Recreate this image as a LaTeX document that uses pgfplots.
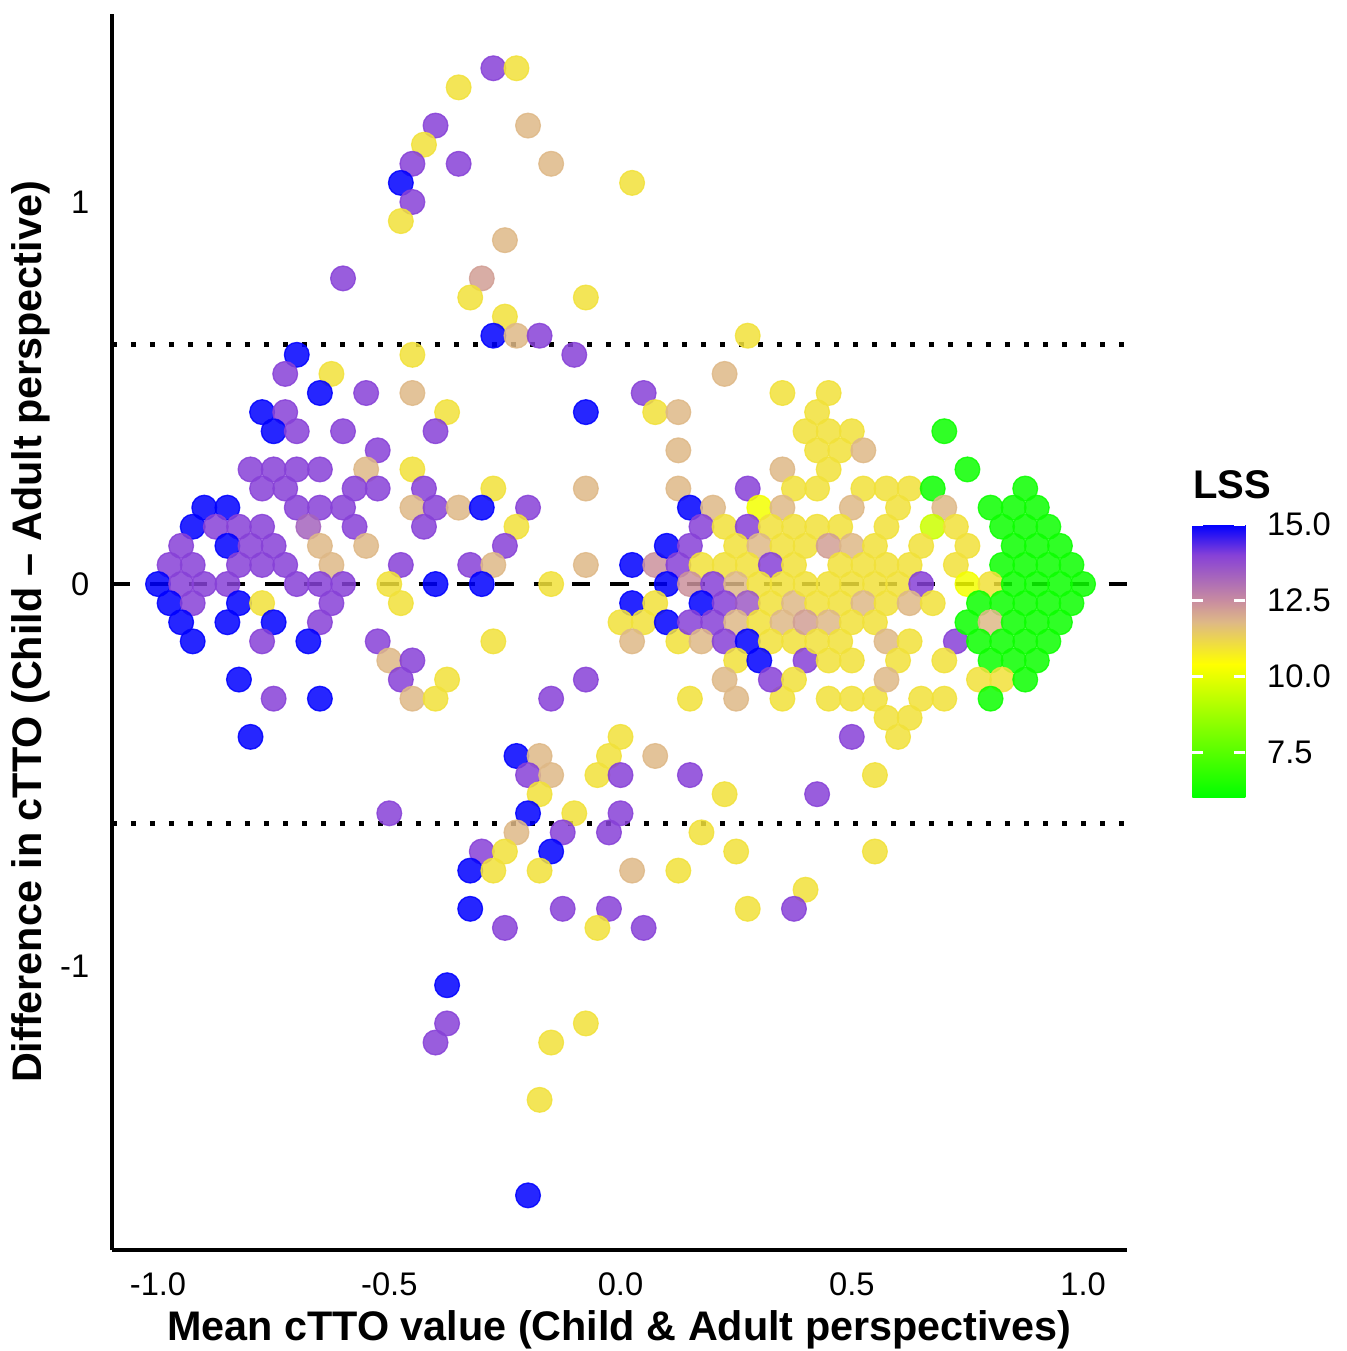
\documentclass[border=0pt]{standalone}
\usepackage{fontspec}
\setmainfont{Liberation Sans}
\usepackage{pgfplots}
\pgfplotsset{compat=1.18}
\pgfplotsset{tick label style={font=\fontsize{9.8}{11}\selectfont}}

\begin{document}
\begin{tikzpicture}
\begin{axis}[
  name=main, at={(0,0)}, anchor=south west,
  scale only axis, width=304.5pt, height=370.8pt,
  xmin=-1.0995, xmax=1.095, ymin=-1.743, ymax=1.492,
  axis x line*=bottom, axis y line*=left,
  axis line style={line width=1.1pt,-},
  xtick={-1,-0.5,0,0.5,1}, xticklabels={-1.0,-0.5,0.0,0.5,1.0},
  ytick={-1,0,1}, yticklabels={-1,0,1},
  tick style={draw=none},
  xticklabel shift=3.3pt, yticklabel shift=3.3pt,
  xlabel={Mean cTTO value (Child \& Adult perspectives)},
  ylabel={Difference in cTTO (Child -- Adult perspective)},
  label style={font=\bfseries\fontsize{12.4}{14}\selectfont},
  xlabel style={at={(axis description cs:0.5,-0.0736)}, anchor=base},
  ylabel style={at={(axis description cs:-0.0798,0.5)}, anchor=center},
  colormap={lss}{rgb255(0cm)=(0,255,0) rgb255(4.4cm)=(255,255,0) rgb255(5.8cm)=(222,184,135) rgb255(6.5cm)=(200,140,160) rgb255(8cm)=(135,65,215) rgb255(9cm)=(0,0,255)},
  point meta min=6, point meta max=15,
  colorbar,
  colorbar/width=15.9pt,
  colorbar style={
    at={(parent axis.north east)}, anchor=north west,
    xshift=11.1pt, yshift=-153.2pt,
    scale only axis, height=81.9pt,
    ytick={7.5,10,12.5,15}, yticklabels={7.5,10.0,12.5,15.0},
    ytick pos=both, yticklabel pos=right,
    tick align=inside, major tick length=3.3pt,
    ytick style={draw=white, line width=0.9pt},
    yticklabel shift=3pt,
    axis line style={draw=none},
    title={LSS},
    title style={at={(0,1)}, anchor=base west, yshift=2pt, inner sep=0pt,
      font=\bfseries\fontsize{12}{14}\selectfont},
  },
]
\addplot[scatter, only marks, mark=*, mark size=3.7pt, scatter src=explicit,
  scatter/use mapped color={draw=mapped color, fill=mapped color},
  opacity=0.85]
  table[row sep=\\, meta=c]{
x y c\\
-0.6 0.8 14\\ -0.7 0.6 15\\ -0.725 0.55 14\\ -0.625 0.55 11\\ -0.65 0.5 15\\
-0.55 0.5 14\\ -0.775 0.45 15\\ -0.725 0.45 14\\ -0.75 0.4 15\\ -0.7 0.4 14\\
-0.6 0.4 14\\ -0.525 0.35 14\\ -0.55 0.3 11.8\\ -0.8 0.3 14\\ -0.75 0.3 14\\
-0.7 0.3 14\\ -0.65 0.3 14\\ -0.775 0.25 14\\ -0.725 0.25 14\\ -0.575 0.25 14\\
-0.525 0.25 14\\ -0.9 0.2 15\\ -0.85 0.2 15\\ -0.7 0.2 14\\ -0.65 0.2 14\\
-0.6 0.2 14\\ -0.925 0.15 15\\ -0.875 0.15 14\\ -0.825 0.15 14\\ -0.775 0.15 14\\
-0.675 0.15 13.3\\ -0.575 0.15 14\\ -0.95 0.1 14\\ -0.85 0.1 15\\ -0.8 0.1 14\\
-0.75 0.1 14\\ -0.65 0.1 11.8\\ -0.55 0.1 11.8\\ -0.975 0.05 14\\ -0.925 0.05 14\\
-0.825 0.05 14\\ -0.775 0.05 14\\ -0.725 0.05 14\\ -0.625 0.05 11.8\\ -1.0 0 15\\
-0.95 0 14\\ -0.9 0 14\\ -0.85 0 14\\ -0.7 0 14\\ -0.65 0 14\\ -0.6 0 14\\
-0.975 -0.05 15\\ -0.925 -0.05 14\\ -0.825 -0.05 15\\ -0.775 -0.05 11\\ -0.625 -0.05 14\\
-0.95 -0.1 15\\ -0.85 -0.1 15\\ -0.75 -0.1 15\\ -0.65 -0.1 14\\ -0.925 -0.15 15\\
-0.775 -0.15 14\\ -0.675 -0.15 15\\ -0.525 -0.15 14\\ -0.5 -0.2 11.8\\ -0.825 -0.25 15\\
-0.75 -0.3 14\\ -0.65 -0.3 15\\ -0.8 -0.4 15\\
-0.275 1.35 14\\ -0.225 1.35 11\\ -0.35 1.3 11\\ -0.4 1.2 14\\ -0.2 1.2 11.8\\
-0.425 1.15 11\\ -0.45 1.1 14\\ -0.35 1.1 14\\ -0.15 1.1 11.8\\ -0.475 1.05 15\\
0.025 1.05 11\\ -0.45 1.0 14\\ -0.475 0.95 11\\ -0.25 0.9 11.8\\ -0.3 0.8 12.2\\
-0.325 0.75 11\\ -0.075 0.75 11\\ -0.25 0.7 11\\ -0.275 0.65 15\\ -0.225 0.65 11.8\\
-0.175 0.65 14\\ -0.1 0.6 14\\ -0.45 0.6 11\\ -0.45 0.5 11.8\\ -0.375 0.45 11\\
-0.075 0.45 15\\ 0.05 0.5 14\\ 0.075 0.45 11\\ 0.125 0.45 11.8\\ -0.4 0.4 14\\
-0.45 0.3 11\\ -0.425 0.25 14\\ -0.275 0.25 11\\ -0.45 0.2 11.8\\ -0.4 0.2 14\\
-0.35 0.2 11.8\\ -0.3 0.2 15\\ -0.2 0.2 14\\ 0.125 0.35 11.8\\ 0.125 0.25 11.8\\
-0.075 0.25 11.8\\ -0.425 0.15 14\\ -0.225 0.15 11\\ -0.25 0.1 14\\ -0.475 0.05 14\\
-0.325 0.05 14\\ -0.275 0.05 11.8\\ -0.075 0.05 11.8\\ 0.025 0.05 15\\ 0.075 0.05 12.4\\
0.1 0.1 15\\ 0.125 0.05 14\\ -0.5 0 11\\ -0.4 0 15\\ -0.3 0 15\\
-0.15 0 11\\ 0.1 0 15\\ -0.475 -0.05 11\\ 0.025 -0.05 15\\ 0.075 -0.05 11\\
0 -0.1 11\\ 0.05 -0.1 11\\ 0.1 -0.1 15\\ 0.125 -0.15 11\\ 0.025 -0.15 11.8\\
-0.275 -0.15 11\\ -0.45 -0.2 14\\ -0.475 -0.25 14\\ -0.375 -0.25 11\\ -0.45 -0.3 11.8\\
-0.4 -0.3 11\\ -0.15 -0.3 14\\ -0.075 -0.25 14\\
0 -0.4 11\\ -0.225 -0.45 15\\ -0.175 -0.45 11.8\\ -0.025 -0.45 11\\ 0.075 -0.45 11.8\\
-0.2 -0.5 14\\ -0.15 -0.5 11.8\\ -0.05 -0.5 11\\ 0 -0.5 14\\ 0.15 -0.5 14\\
-0.175 -0.55 11\\ -0.5 -0.6 14\\ -0.2 -0.6 15\\ -0.1 -0.6 11\\ 0 -0.6 14\\
-0.225 -0.65 11.8\\ -0.125 -0.65 14\\ -0.025 -0.65 14\\ 0.175 -0.65 11\\ -0.3 -0.7 14\\
-0.25 -0.7 11\\ -0.15 -0.7 15\\ -0.325 -0.75 15\\ -0.275 -0.75 11\\ -0.175 -0.75 11\\
0.025 -0.75 11.8\\ 0.125 -0.75 11\\ -0.325 -0.85 15\\ -0.25 -0.9 14\\ -0.125 -0.85 14\\
-0.025 -0.85 14\\ -0.05 -0.9 11\\ 0.05 -0.9 14\\ -0.375 -1.05 15\\ -0.375 -1.15 14\\
-0.4 -1.2 14\\ -0.075 -1.15 11\\ -0.15 -1.2 11\\ -0.175 -1.35 11\\ -0.2 -1.6 15\\
0.15 -0.3 11\\ 0.25 -0.3 11.8\\ 0.35 -0.3 11\\ 0.45 -0.3 11\\ 0.5 -0.3 11\\
0.55 -0.3 11\\ 0.575 -0.35 11\\ 0.6 -0.4 11\\ 0.5 -0.4 14\\ 0.55 -0.5 11\\
0.225 -0.55 11\\ 0.425 -0.55 14\\ 0.25 -0.7 11\\ 0.55 -0.7 11\\ 0.4 -0.8 11\\
0.275 -0.85 11\\ 0.375 -0.85 14\\
0.275 0.65 11\\ 0.225 0.55 11.8\\ 0.35 0.5 11\\ 0.4 0.4 11\\ 0.35 0.3 11.8\\
0.275 0.25 14\\ 0.375 0.25 11\\ 0.15 0.2 15\\ 0.2 0.2 11.8\\ 0.3 0.2 10.2\\
0.35 0.2 11.8\\ 0.175 0.15 14\\ 0.225 0.15 11\\ 0.275 0.15 14\\ 0.325 0.15 11\\
0.375 0.15 11\\ 0.15 0.1 14\\ 0.25 0.1 11\\ 0.3 0.1 11.8\\ 0.35 0.1 11\\
0.175 0.05 11\\ 0.225 0.05 11\\ 0.275 0.05 11\\ 0.325 0.05 14\\ 0.375 0.05 11\\
0.15 0 12.4\\ 0.2 0 14\\ 0.25 0 11.8\\ 0.3 0 11\\ 0.35 0 11\\
0.175 -0.05 15\\ 0.225 -0.05 14\\ 0.275 -0.05 13.5\\ 0.325 -0.05 11\\ 0.375 -0.05 11.8\\
0.15 -0.1 14\\ 0.2 -0.1 14\\ 0.25 -0.1 11.8\\ 0.3 -0.1 11\\ 0.35 -0.1 11.8\\
0.175 -0.15 11.8\\ 0.225 -0.15 14\\ 0.275 -0.15 15\\ 0.325 -0.15 11\\ 0.375 -0.15 11\\
0.25 -0.2 11\\ 0.3 -0.2 15\\ 0.4 -0.2 14\\ 0.225 -0.25 11.8\\ 0.325 -0.25 14\\
0.375 -0.25 11\\
0.45 0.5 11\\ 0.425 0.45 11\\ 0.45 0.4 11\\ 0.5 0.4 11\\ 0.7 0.4 6.2\\
0.425 0.35 11\\ 0.475 0.35 11\\ 0.525 0.35 11.8\\ 0.75 0.3 6.2\\ 0.45 0.3 11\\
0.425 0.25 11\\ 0.525 0.25 11\\ 0.575 0.25 11\\ 0.625 0.25 11\\ 0.675 0.25 6.2\\
0.5 0.2 11.8\\ 0.6 0.2 11\\ 0.7 0.2 11.8\\ 0.425 0.15 11\\ 0.475 0.15 11\\
0.575 0.15 11\\ 0.675 0.15 9.5\\ 0.725 0.15 11\\ 0.4 0.1 11\\ 0.45 0.1 12.2\\
0.5 0.1 11.8\\ 0.55 0.1 11\\ 0.65 0.1 11\\ 0.475 0.05 11\\ 0.525 0.05 11\\
0.575 0.05 11\\ 0.625 0.05 11\\ 0.725 0.05 11\\ 0.4 0 11\\ 0.45 0 11\\
0.5 0 11\\ 0.55 0 11\\ 0.6 0 11\\ 0.65 0 14\\ 0.425 -0.05 11\\
0.475 -0.05 11\\ 0.525 -0.05 11.8\\ 0.575 -0.05 11\\ 0.625 -0.05 11.8\\ 0.675 -0.05 11\\
0.4 -0.1 12.2\\ 0.45 -0.1 11.8\\ 0.5 -0.1 11\\ 0.55 -0.1 11\\ 0.425 -0.15 11\\
0.475 -0.15 11\\ 0.575 -0.15 11.8\\ 0.625 -0.15 11\\ 0.725 -0.15 14\\ 0.45 -0.2 11\\
0.5 -0.2 11\\ 0.6 -0.2 11\\ 0.7 -0.2 11\\ 0.575 -0.25 11.8\\ 0.65 -0.3 11\\
0.7 -0.3 11\\ 0.625 -0.35 11\\
0.875 0.25 6.2\\ 0.8 0.2 6.2\\ 0.85 0.2 6.2\\ 0.9 0.2 6.2\\ 0.825 0.15 6.2\\
0.875 0.15 6.2\\ 0.925 0.15 6.2\\ 0.75 0.1 11\\ 0.85 0.1 6.2\\ 0.9 0.1 6.2\\
0.95 0.1 6.2\\ 0.825 0.05 6.2\\ 0.875 0.05 6.2\\ 0.925 0.05 6.2\\ 0.975 0.05 6.2\\
0.75 0 10.2\\ 0.8 0 11\\ 0.85 0 6.2\\ 0.9 0 6.2\\ 0.95 0 6.2\\
1.0 0 6.2\\ 0.775 -0.05 6.2\\ 0.825 -0.05 6.2\\ 0.875 -0.05 6.2\\ 0.925 -0.05 6.2\\
0.975 -0.05 6.2\\ 0.75 -0.1 6.2\\ 0.8 -0.1 11.8\\ 0.85 -0.1 6.2\\ 0.9 -0.1 6.2\\
0.95 -0.1 6.2\\ 0.775 -0.15 6.2\\ 0.825 -0.15 6.2\\ 0.875 -0.15 6.2\\ 0.925 -0.15 6.2\\
0.8 -0.2 6.2\\ 0.85 -0.2 6.2\\ 0.9 -0.2 6.2\\ 0.775 -0.25 11\\ 0.825 -0.25 11\\
0.875 -0.25 6.2\\ 0.8 -0.3 6.2\\
};
\addplot[black, line width=1.4pt, dash pattern=on 5.5pt off 6pt]
  coordinates {(-1.0995,0) (1.095,0)};
\addplot[black, line width=1.5pt, dash pattern=on 1.5pt off 4.2pt]
  coordinates {(-1.0995,0.626) (1.095,0.626)};
\addplot[black, line width=1.5pt, dash pattern=on 1.5pt off 4.2pt]
  coordinates {(-1.0995,-0.628) (1.095,-0.628)};
\end{axis}
\pgfresetboundingbox
\useasboundingbox (-33.6pt,-30.3pt) rectangle (370.5pt,375pt);
\end{tikzpicture}
\end{document}
